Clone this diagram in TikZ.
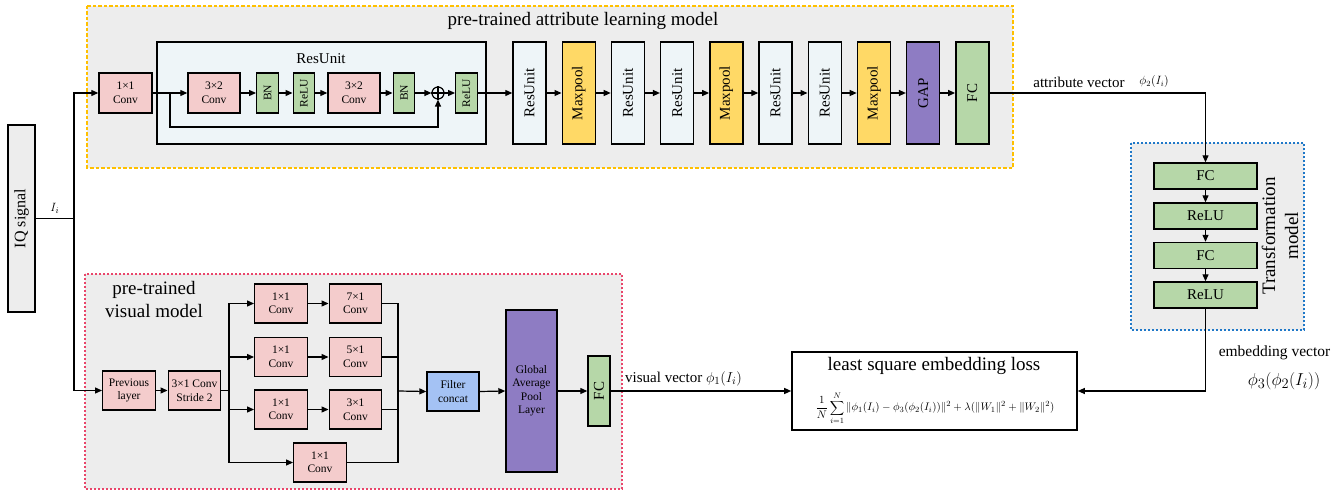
\documentclass[tikz,border=0pt]{standalone}
\usepackage{fontspec}
\setmainfont{Liberation Serif}
\usepackage{graphicx}
\usetikzlibrary{arrows.meta}

\definecolor{panelgray}{HTML}{EDEDED}
\definecolor{dashyellow}{HTML}{FFC000}
\definecolor{dashred}{HTML}{E9456A}
\definecolor{dashblue}{HTML}{1F78C8}
\definecolor{convpink}{HTML}{F4CCCC}
\definecolor{layergreen}{HTML}{B6D7A8}
\definecolor{resblue}{HTML}{EEF5F8}
\definecolor{poolyellow}{HTML}{FFD966}
\definecolor{gappurple}{HTML}{8E7CC3}
\definecolor{concatblue}{HTML}{A4C2F4}

\begin{document}
\begin{tikzpicture}[x=1pt,y=-1pt,
  link/.style={line width=1.2pt, draw=black},
  arr/.style={link, -{Triangle[length=7pt,width=6pt]}},
  blk/.style={draw=black, line width=1.4pt, inner sep=0pt, align=center},
  smallfont/.style={font=\fontsize{11.5}{13.5}\selectfont},
  midfont/.style={font=\fontsize{15}{17}\selectfont},
  bigfont/.style={font=\fontsize{19}{23}\selectfont},
  conv/.style={blk, smallfont, fill=convpink, minimum height=40},
  gsmall/.style={blk, smallfont, fill=layergreen, minimum height=40, minimum width=21.5},
  colbox/.style={blk, midfont, minimum width=33, minimum height=102},
  tbox/.style={blk, midfont, fill=layergreen, minimum width=103, minimum height=26},
  vconv/.style={conv, minimum width=52.5, minimum height=39},
  panel/.style={fill=panelgray, line width=1.3pt}
]
\useasboundingbox (0,0) rectangle (1344,494);

% ---- model panels ----
\draw[panel, draw=dashyellow, dash pattern=on 3.5pt off 2pt] (87,6) rectangle (1013,168);
\draw[panel, draw=dashred, dash pattern=on 2pt off 2pt] (85,274) rectangle (622,489);
\draw[panel, draw=dashblue, dash pattern=on 2pt off 2pt] (1131,143) rectangle (1304,330);

\node[bigfont] (ttl) at (583,21) {pre-trained attribute learning model};
\node[bigfont, align=center] (vttl) at (154,300) {pre-trained\\visual model};
\node[bigfont, align=center, rotate=90] (tttl) at (1280,236) {Transformation\\model};

% ---- input ----
\node[blk, line width=1.6pt, fill=panelgray, minimum width=27, minimum height=187,
      font=\fontsize{16}{18}\selectfont] (iq) at (21.5,218.5) {\rotatebox{90}{IQ signal}};
\coordinate (sp) at (74,218.5);
\draw[link] (iq.east) -- (sp) node[midway, above=1pt, font=\fontsize{13}{15}\selectfont] (ilab) {$I_i$};

% ---- attribute learning branch ----
\node[conv, minimum width=53] (c11) at (125.5,93) {1×1\\Conv};
\node[blk, line width=2pt, fill=resblue, minimum width=329, minimum height=102] (ru) at (321.5,93) {};
\node[midfont] (rulab) at (321,59) {ResUnit};
\node[conv, minimum width=52] (ca) at (214,93) {3×2\\Conv};
\node[gsmall] (bna) at (267.5,93) {\rotatebox{90}{BN}};
\node[gsmall] (rla) at (304,93) {\rotatebox{90}{ReLU}};
\node[conv, minimum width=52] (cb) at (354,93) {3×2\\Conv};
\node[gsmall] (bnb) at (404,93) {\rotatebox{90}{BN}};
\node[draw=black, line width=1.2pt, circle, minimum size=12, inner sep=0pt] (add) at (438,93) {};
\draw[line width=1.1pt] (add.north) -- (add.south) (add.west) -- (add.east);
\node[gsmall] (rlb) at (466.5,93) {\rotatebox{90}{ReLU}};

\node[colbox, fill=resblue]   (k1)  at (529.5,93) {\rotatebox{90}{ResUnit}};
\node[colbox, fill=poolyellow](k2)  at (578.7,93) {\rotatebox{90}{Maxpool}};
\node[colbox, fill=resblue]   (k3)  at (627.9,93) {\rotatebox{90}{ResUnit}};
\node[colbox, fill=resblue]   (k4)  at (677.1,93) {\rotatebox{90}{ResUnit}};
\node[colbox, fill=poolyellow](k5)  at (726.3,93) {\rotatebox{90}{Maxpool}};
\node[colbox, fill=resblue]   (k6)  at (775.5,93) {\rotatebox{90}{ResUnit}};
\node[colbox, fill=resblue]   (k7)  at (824.7,93) {\rotatebox{90}{ResUnit}};
\node[colbox, fill=poolyellow](k8)  at (873.9,93) {\rotatebox{90}{Maxpool}};
\node[colbox, fill=gappurple] (k9)  at (923.1,93) {\rotatebox{90}{GAP}};
\node[colbox, fill=layergreen](k10) at (972.3,93) {\rotatebox{90}{FC}};

\draw[arr] (sp) |- (c11.west);
\draw[arr] (c11.east) -- (ca.west);
\coordinate (sk) at (170,93);
\draw[arr] (sk) -- ++(0,34) -| (add.south);
\draw[arr] (ca.east) -- (bna.west);
\draw[arr] (bna.east) -- (rla.west);
\draw[arr] (rla.east) -- (cb.west);
\draw[arr] (cb.east) -- (bnb.west);
\draw[arr] (bnb.east) -- (add.west);
\draw[arr] (add.east) -- (rlb.west);
\draw[arr] (rlb.east) -- (k1.west);
\foreach \a/\b in {k1/k2,k2/k3,k3/k4,k4/k5,k5/k6,k6/k7,k7/k8,k8/k9,k9/k10}
  \draw[arr] (\a.east) -- (\b.west);

% ---- transformation model ----
\node[tbox] (t1) at (1205.5,176) {FC};
\node[tbox] (t2) at (1205.5,216) {ReLU};
\node[tbox] (t3) at (1205.5,255.5) {FC};
\node[tbox] (t4) at (1205.5,295) {ReLU};
\draw[arr] (k10.east) -| (t1.north);
\draw[arr] (t1.south) -- (t2.north);
\draw[arr] (t2.south) -- (t3.north);
\draw[arr] (t3.south) -- (t4.north);
\node[midfont] (avlab) at (1079,82) {attribute vector};
\node[font=\fontsize{12}{14}\selectfont] (avsym) at (1154,82) {$\phi_2(I_i)$};

% ---- loss ----
\node[blk, line width=1.6pt, minimum width=285, minimum height=78] (loss) at (934.5,391) {};
\node[bigfont, inner sep=0pt] (losst) at (934,366) {least square embedding loss};
\node[font=\fontsize{11}{13}\selectfont, inner sep=0pt] (lossf) at (935,408)
  {$\displaystyle \frac{1}{N}\sum_{i=1}^{N}\Vert\phi_1(I_i)-\phi_3(\phi_2(I_i))\Vert^2+\lambda(\Vert W_1\Vert^2+\Vert W_2\Vert^2)$};
\draw[arr] (t4.south) |- (loss.east);
\node[font=\fontsize{15.5}{17}\selectfont] (evlab) at (1274.5,353) {embedding vector};
\node[bigfont] (evsym) at (1284,381) {$\phi_3(\phi_2(I_i))$};

% ---- visual model ----
\node[vconv, text width=50] (prev) at (129,390.5) {Previous\\layer};
\node[vconv] (strd) at (194.5,390.5) {3×1 Conv\\Stride 2};
\node[vconv] (r1a) at (281,303.5) {1×1\\Conv};
\node[vconv] (r1b) at (355.5,303.5) {7×1\\Conv};
\node[vconv] (r2a) at (281,357) {1×1\\Conv};
\node[vconv] (r2b) at (355.5,357) {5×1\\Conv};
\node[vconv] (r3a) at (281,409.5) {1×1\\Conv};
\node[vconv] (r3b) at (355.5,409.5) {3×1\\Conv};
\node[vconv] (r4)  at (320,462.5) {1×1\\Conv};
\node[blk, smallfont, fill=concatblue, minimum width=52, minimum height=39] (fcat) at (453,391.5) {Filter\\concat};
\node[blk, smallfont, fill=gappurple, minimum width=51, minimum height=162] (gpl) at (531.5,391) {Global\\Average\\Pool\\Layer};
\node[blk, midfont, fill=layergreen, minimum width=22, minimum height=70] (vfc) at (599,391) {\rotatebox{90}{FC}};

\coordinate (br) at (229,390.5);
\coordinate (mg) at (398,391);
\draw[arr] (sp) |- (prev.west);
\draw[arr] (prev.east) -- (strd.west);
\draw[link] (strd.east) -- (br);
\draw[arr] (br) |- (r1a.west);
\draw[arr] (br) |- (r2a.west);
\draw[arr] (br) |- (r3a.west);
\draw[arr] (br) |- (r4.west);
\draw[arr] (r1a.east) -- (r1b.west);
\draw[arr] (r2a.east) -- (r2b.west);
\draw[arr] (r3a.east) -- (r3b.west);
\draw[link] (r1b.east) -| (mg);
\draw[link] (r2b.east) -| (mg);
\draw[link] (r3b.east) -| (mg);
\draw[link] (r4.east) -| (mg);
\draw[arr] (mg) -- (fcat.west);
\draw[arr] (fcat.east) -- (gpl.west);
\draw[arr] (gpl.east) -- (vfc.west);
\draw[arr] (vfc.east) -- (loss.west);
\node[midfont] (vvlab) at (683.5,379) {visual vector $\phi_1(I_i)$};
\end{tikzpicture}
\end{document}
